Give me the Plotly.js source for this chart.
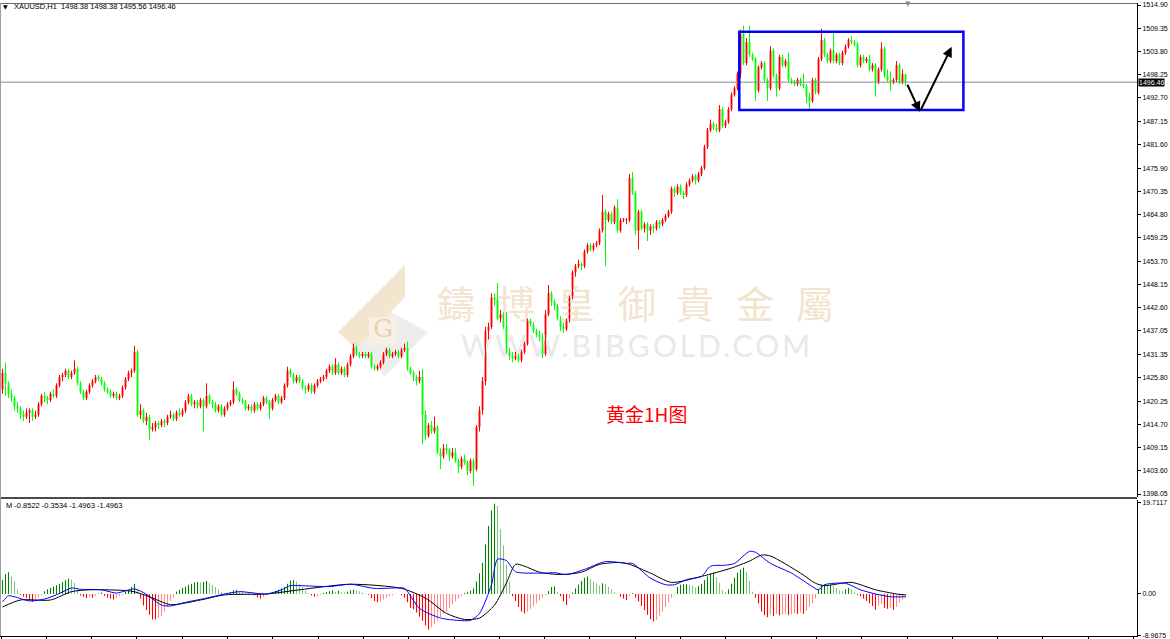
<!DOCTYPE html>
<html><head><meta charset="utf-8">
<script src="https://cdn.plot.ly/plotly-3.0.1.min.js"></script>
<style>html,body{margin:0;padding:0;background:#fff;overflow:hidden}#chart{width:1170px;height:639px}</style>
</head><body><div id="chart"></div>
<script>
// ---------------- DATA (XAUUSD H1) ----------------
const priceOpen = [
1423,1427,1424.5,1422,1421,1419,1418.5,1417,1416.5,1417.5,
1418,1416.5,1417,1419.5,1421.5,1421,1420.5,1422,1421.5,1424,
1426,1426.5,1427.5,1426,1427,1428,1424.5,1422.5,1421,1422.5,
1424,1425,1426,1425.5,1424.5,1423,1422.5,1421.5,1422,1421,
1421.5,1423.5,1425.5,1427,1427.5,1432,1417,1418,1415.5,1416.5,
1413.5,1414,1415,1414.5,1415.5,1415,1416.5,1417,1416,1417.5,
1417,1418,1420,1421.5,1419.5,1420,1419,1420.5,1419,1421.5,
1420,1419.5,1418,1419,1417,1418.5,1419.5,1420,1423,1422,
1420.5,1420,1418.5,1419,1418,1419.5,1418.5,1419.5,1421,1420,
1418.5,1420.5,1421.5,1420,1421,1424,1427.5,1426.5,1425,1426,
1425,1423.5,1423,1424,1422.5,1424,1425,1425.5,1426,1427.5,
1428.5,1427,1429,1427,1428,1426.5,1429,1431,1433,1431.5,
1431,1431.5,1431,1431.5,1428.5,1428,1428.5,1429.5,1431.5,1432.5,
1431,1431.5,1432,1431,1432.5,1433,1428,1427,1426,1425,
1426,1417,1412,1414.5,1413,1414,1408,1407,1409,1408.5,
1407,1408,1406,1404.5,1406.5,1405.5,1403.5,1406,1404,1414,
1418,1425,1437,1438,1445,1444.5,1440,1441,1438,1432,
1431,1430.5,1431,1430,1432,1434,1439.5,1438.5,1437,1436,
1435.5,1431.5,1441,1446,1444,1443,1440,1438,1437.5,1439.5,
1445,1451,1452.5,1453,1452.5,1456,1457.5,1456.5,1457.5,1458,
1461,1465.5,1463.5,1465,1463,1466.5,1461,1463.5,1463.5,1463.5,
1473.5,1470,1461,1465.5,1461.5,1462.5,1461,1462,1461.5,1463,
1462.5,1463.5,1464.5,1465.5,1471,1470,1471.5,1470,1469.5,1472,
1473,1474,1473,1474.5,1476,1481,1485,1486.5,1485.5,1485,
1490,1486,1487,1490,1493.5,1495,1498.5,1508,1501,1506,
1503,1502,1494.5,1500,1501,1497,1495,1504,1498,1495,
1502.5,1500.5,1501.5,1497,1496.5,1496,1497,1496,1495.5,1493,
1492,1497,1494,1502,1506.5,1503,1501.5,1504,1501.5,1503,
1501,1503.5,1505,1506.5,1506,1505.5,1500.5,1502.5,1501.5,1502,
1499.5,1500.5,1496.5,1499.5,1504.5,1498,1497,1496.5,1497,1500.5,
1496.5,1498.38];
const priceHigh = [
1428,1429.5,1425,1423,1421.5,1420,1419,1418,1418.5,1418.5,
1418.5,1418,1420,1422,1422.5,1421.5,1422.5,1423,1424.5,1426.5,
1427,1428,1428,1427.5,1430,1428.5,1425,1423,1423,1424.5,
1425.5,1426.5,1426.5,1426,1425,1423.5,1423,1422.5,1422.5,1422,
1424,1426,1427.5,1428,1433.5,1432.5,1419.5,1418.5,1417.5,1417,
1415,1415.5,1415.5,1416,1416,1417,1418,1417.5,1418,1418.5,
1418.5,1420.5,1422,1422,1420.5,1420.5,1421,1421,1424.5,1422,
1420.5,1420,1419.5,1419.5,1419,1420,1420.5,1425,1423.5,1422.5,
1421,1420.5,1419.5,1419.5,1420,1420,1420,1421.5,1421.5,1420.5,
1421,1422,1422,1421.5,1424.5,1428.5,1428,1427,1426.5,1426.5,
1425.5,1424,1424.5,1424.5,1424.5,1425.5,1426,1426.5,1428,1429,
1429,1430.5,1429.5,1428.5,1428.5,1429.5,1431.5,1434,1433.5,1432,
1432,1432,1432,1432,1429,1429,1430,1432,1433,1433,
1432,1432.5,1432.5,1433,1434,1434.5,1428.5,1427.5,1426.5,1427.5,
1428,1418,1415,1415.5,1416.5,1414.5,1409,1410,1410,1409,
1409,1409,1406.5,1407,1407.5,1406,1406.5,1406.5,1414.5,1419,
1426,1438,1439,1446,1446,1448.5,1442,1441.5,1441.5,1433,
1432,1432,1431.5,1432.5,1434.5,1440,1440,1439,1437.5,1437,
1436.5,1442,1448,1446.5,1444.5,1443.5,1440.5,1439,1440,1445.5,
1451.5,1453,1454,1453.5,1456.5,1458,1458,1458,1458.5,1461.5,
1469.5,1466,1465.5,1465.5,1467,1468.5,1464,1464,1464,1474.5,
1475,1470.5,1466,1466,1463,1463,1462.5,1462.5,1463.5,1463.5,
1464,1465,1466,1471.5,1471.5,1472,1472,1470.5,1472.5,1473.5,
1474.5,1474.5,1475,1476.5,1481.5,1485.5,1487.5,1487,1486.5,1491,
1490.5,1487.5,1490.5,1494,1495.5,1499,1509,1510,1507,1510,
1503.5,1502.5,1500.5,1501.5,1501.5,1497.5,1505,1504.5,1498.5,1503,
1503,1502,1503.5,1497.5,1497,1497.5,1497.5,1498.5,1496,1494,
1497.5,1497.5,1502.5,1509.2,1507,1503.5,1504.5,1508.5,1503.5,1503.5,
1504,1505.5,1507,1507.5,1506.5,1506,1503,1503,1502.5,1503,
1501,1501,1500,1506,1505,1499.5,1499,1497.5,1501.5,1501,
1499.5,1498.38];
const priceLow = [
1422,1421.5,1421,1420,1418,1417.5,1416,1415.5,1416,1415,
1415.5,1416,1416.5,1419,1420,1419.5,1420,1421,1421,1423.5,
1425,1426,1425.5,1425.5,1426.5,1424,1422,1420.5,1420.5,1422,
1423.5,1424.5,1425,1424,1422.5,1422,1421,1421,1420.5,1420.5,
1421,1423,1425,1426,1427,1416.5,1416,1415,1414.5,1411,
1413,1413,1413.5,1414,1414,1414.5,1416,1415.5,1415.5,1416.5,
1416.5,1417.5,1419.5,1419,1418.5,1418.5,1418.5,1413,1418.5,1419.5,
1418.5,1417.5,1417.5,1416.5,1416.5,1418,1419,1419.5,1421.5,1420,
1419.5,1418,1418,1417.5,1417.5,1418,1418,1419,1419.5,1416,
1418,1420,1419.5,1419.5,1420.5,1423.5,1426,1424.5,1424.5,1424.5,
1423,1422,1422.5,1422,1422,1423.5,1424.5,1425,1425.5,1427,
1426.5,1426.5,1426.5,1426.5,1426,1426,1428.5,1430.5,1431,1430.5,
1430.5,1430.5,1430.5,1428,1427.5,1427.5,1428,1429,1431,1430.5,
1430.5,1431,1430.5,1430.5,1432,1427.5,1426.5,1425,1424,1424.5,
1410,1411,1411.5,1412.5,1412.5,1407.5,1404,1406.5,1407.5,1406,
1406.5,1405.5,1403,1404,1405,1402.5,1403,1400,1403.5,1413,
1417,1424,1435,1437.5,1443,1439.5,1439,1437.5,1431.5,1430,
1429.5,1430,1429.5,1429.5,1431.5,1433.5,1438,1436.5,1435.5,1434.5,
1430.5,1431,1440.5,1443,1442,1439.5,1437,1436.5,1437,1439,
1444.5,1450,1452,1451.5,1452,1455.5,1456,1456,1457,1457.5,
1460.5,1452.5,1463,1462.5,1462.5,1460.5,1460.5,1463,1462.5,1463,
1469.5,1460,1456.5,1461,1460.5,1458.5,1460,1460.5,1461,1461.5,
1462,1463,1464,1465,1469,1469.5,1469.5,1468.5,1469,1471.5,
1472.5,1472,1472.5,1474,1475.5,1480.5,1484.5,1485,1484.5,1484.5,
1485.5,1485.5,1486.5,1489.5,1493,1494.5,1497.5,1500.5,1500.5,1502.5,
1501.5,1492,1494,1499.5,1496.5,1492,1494.5,1497.5,1493,1494.5,
1500,1500,1496.5,1496,1495.5,1495.5,1495.5,1495,1491.5,1489.8,
1491.5,1493.5,1493.5,1501.5,1502.5,1501,1501,1501,1501,1500.5,
1500.5,1503,1504.5,1505.5,1505,1500,1500,1501,1501,1499,
1499,1493,1496,1499,1497.5,1496.5,1494.5,1496,1496.5,1496,
1496,1495.56];
const priceClose = [
1427,1424.5,1422,1421,1419,1418.5,1417,1416.5,1417.5,1418,
1416.5,1417,1419.5,1421.5,1421,1420.5,1422,1421.5,1424,1426,
1426.5,1427.5,1426,1427,1428,1424.5,1422.5,1421,1422.5,1424,
1425,1426,1425.5,1424.5,1423,1422.5,1421.5,1422,1421,1421.5,
1423.5,1425.5,1427,1427.5,1432,1417,1418,1415.5,1416.5,1413.5,
1414,1415,1414.5,1415.5,1415,1416.5,1417,1416,1417.5,1417,
1418,1420,1421.5,1419.5,1420,1419,1420.5,1419,1421.5,1420,
1419.5,1418,1419,1417,1418.5,1419.5,1420,1423,1422,1420.5,
1420,1418.5,1419,1418,1419.5,1418.5,1419.5,1421,1420,1418.5,
1420.5,1421.5,1420,1421,1424,1427.5,1426.5,1425,1426,1425,
1423.5,1423,1424,1422.5,1424,1425,1425.5,1426,1427.5,1428.5,
1427,1429,1427,1428,1426.5,1429,1431,1433,1431.5,1431,
1431.5,1431,1431.5,1428.5,1428,1428.5,1429.5,1431.5,1432.5,1431,
1431.5,1432,1431,1432.5,1433,1428,1427,1426,1425,1426,
1417,1412,1414.5,1413,1414,1408,1407,1409,1408.5,1407,
1408,1406,1404.5,1406.5,1405.5,1403.5,1406,1404,1414,1418,
1425,1437,1438,1445,1444.5,1440,1441,1438,1432,1431,
1430.5,1431,1430,1432,1434,1439.5,1438.5,1437,1436,1435.5,
1431.5,1441,1446,1444,1443,1440,1438,1437.5,1439.5,1445,
1451,1452.5,1453,1452.5,1456,1457.5,1456.5,1457.5,1458,1461,
1465.5,1463.5,1465,1463,1466.5,1461,1463.5,1463.5,1463.5,1473.5,
1470,1461,1465.5,1461.5,1462.5,1461,1462,1461.5,1463,1462.5,
1463.5,1464.5,1465.5,1471,1470,1471.5,1470,1469.5,1472,1473,
1474,1473,1474.5,1476,1481,1485,1486.5,1485.5,1485,1490,
1486,1487,1490,1493.5,1495,1498.5,1508,1501,1506,1503,
1502,1494.5,1500,1501,1497,1495,1504,1498,1495,1502.5,
1500.5,1501.5,1497,1496.5,1496,1497,1496,1495.5,1493,1492,
1497,1494,1502,1506.5,1503,1501.5,1504,1501.5,1503,1501,
1503.5,1505,1506.5,1506,1505.5,1500.5,1502.5,1501.5,1502,1499.5,
1500.5,1496.5,1499.5,1504.5,1498,1497,1496.5,1497,1500.5,1496.5,
1498.38,1496.46];

// MACD histogram (one per bar)
const macdHist = [
3.0,4.3,4.7,3.8,2.7,0.9,-0.2,-0.6,-0.9,-1.4,
-1.7,-1.5,-0.8,-0.3,0.6,1.0,1.3,1.6,1.9,2.2,
2.6,3.0,3.3,3.1,2.4,1.0,-0.3,-0.6,-0.9,-0.7,
-0.8,-0.4,0.1,0.3,-0.4,-0.8,-1.0,-1.2,-0.9,-0.5,
-0.2,0.5,0.8,1.5,2.2,1.0,-1.0,-2.5,-3.5,-4.5,
-5.5,-5.5,-5.2,-4.8,-3.8,-2.8,-1.5,-0.8,0.5,0.9,
1.3,1.6,2.0,2.2,2.5,2.6,2.5,2.6,2.8,2.4,
2.0,1.5,1.0,0.4,0.2,0.1,0.3,0.8,0.9,0.6,
0.5,0.3,0.2,0.1,-0.3,-0.8,-1.0,-0.7,-0.3,0.1,
0.3,0.6,0.9,1.2,1.5,2.2,2.9,3.0,2.7,2.2,
1.5,0.7,0.2,-0.3,-0.6,-0.5,-0.2,0.2,0.4,0.6,
0.8,0.5,0.7,0.4,0.3,0.5,0.8,0.9,0.8,0.6,
0.3,0.1,-0.2,-0.9,-1.5,-1.8,-1.6,-1.2,-0.8,-0.5,
-0.3,-0.1,0.0,-0.3,-0.8,-1.8,-3.0,-3.3,-4.0,-4.9,
-5.8,-6.8,-7.7,-7.2,-6.6,-5.8,-5.0,-4.3,-3.8,-3.0,
-2.2,-1.6,-1.0,-0.5,0.2,0.4,0.7,1.2,2.7,4.5,
6.7,10.7,14.7,18.0,19.5,19.0,14.0,10.5,6.3,2.7,
-0.5,-1.5,-2.8,-3.8,-4.2,-3.8,-3.2,-2.6,-2.0,-1.4,
-0.8,-0.3,0.6,1.5,1.6,0.4,-0.5,-1.6,-2.4,-1.0,
0.3,1.2,2.0,2.8,3.5,3.8,3.2,2.7,2.3,1.8,
2.3,2.2,1.5,1.0,0.4,0.1,-0.6,-1.0,-1.3,-0.5,
0.2,-0.8,-1.6,-2.6,-3.5,-4.5,-5.5,-5.9,-5.6,-4.8,
-3.8,-2.8,-1.8,-0.8,-0.2,1.5,2.0,2.1,2.1,2.0,
1.8,1.4,1.7,2.2,3.0,3.8,4.3,4.6,3.6,2.4,
0.8,0.4,1.0,2.2,3.5,4.6,5.3,5.7,4.7,2.8,
0.5,-0.8,-2.0,-3.8,-4.6,-5.0,-4.5,-4.8,-4.3,-4.6,
-4.4,-4.3,-4.5,-4.4,-4.2,-4.3,-4.0,-4.3,-3.6,-2.8,
-2.0,-1.0,1.0,2.0,2.0,1.9,2.0,1.8,1.3,0.8,
0.6,1.0,1.3,1.0,0.4,-0.2,-0.5,-1.0,-1.5,-2.0,
-2.6,-3.4,-2.5,-2.2,-3.0,-3.2,-3.0,-3.4,-2.8,-1.8,
-1.2,-0.85];

// MACD main (blue) and signal (black) lines, read at these bar indices
const difBars = [0,2,4,9,14,19,23,26,33,38,44,48,53,56,61,68,74,79,88,93,96,99,109,116,124,131,134,139,146,152,156,159,163,165,168,171,178,181,184,188,194,201,208,210,216,221,224,228,233,236,241,244,249,251,256,263,269,272,274,281,286,291,296,301];
const difValues = [-1.7,-0.4,-0.6,-1.5,-1.1,0.1,1.3,1.0,0.9,0.2,1.1,-0.1,-2.4,-2.6,-1.8,-0.9,0,0.5,0,0.9,1.8,1.8,1.6,2.1,1.2,1.3,1.2,-3.1,-5.2,-5.7,-5.7,-4.2,2.0,7.5,7.2,4.8,4.5,4.5,4.6,4.2,5.3,7.0,6.6,6.6,3.4,2.0,2.0,3.1,3.8,6.0,6.2,6.6,9.2,9.0,6.6,4.5,2.0,0.9,2.0,2.3,0.9,0,-0.6,-0.6];
const deaBars = [0,6,16,23,29,43,49,56,66,74,88,99,116,133,141,148,154,159,164,168,171,174,179,186,193,199,206,209,216,223,233,243,249,253,256,266,271,274,283,291,298,301];
const deaValues = [-2.8,-1.3,-1.3,0.5,0.9,0.6,-0.6,-2.3,-1.3,-0.2,0,0.9,2.1,1.2,-0.9,-4.2,-5.5,-5.2,-2.4,2.4,6.4,6.0,4.7,4.2,4.7,6.4,6.8,6.4,4.5,2.5,3.8,5.6,7.1,8.4,8.2,4.5,2.3,1.8,2.5,0.9,0,-0.2];

// Axis tick labels
const priceTickVals = [1514.90,1509.35,1503.80,1498.25,1492.70,1487.15,1481.60,1475.90,1470.35,1464.80,1459.25,1453.70,1448.15,1442.60,1437.05,1431.35,1425.80,1420.25,1414.70,1409.15,1403.60,1398.05];
const priceTickText = ['1514.90','1509.35','1503.80','1498.25','1492.70','1487.15','1481.60','1475.90','1470.35','1464.80','1459.25','1453.70','1448.15','1442.60','1437.05','1431.35','1425.80','1420.25','1414.70','1409.15','1403.60','1398.05'];
const macdTickVals = [19.7117, 0, -8.9675];
const macdTickText = ['19.7117', '0.00', '-8.9675'];

// Texts
const headerText = 'XAUUSD,H1\u00a0\u00a01498.38 1498.38 1495.56 1496.46';
const macdText = 'M -0.8522 -0.3534 -1.4963 -1.4963';
const lastPriceText = '1496.46';
const chartLabel = '黄金1H图';
const wmChars = ['鑄','博','皇','御','貴','金','屬'];
const wmUrl = 'WWW.BIBGOLD.COM';
const logoLetter = 'G';

// Analyst drawings (in bar-index / price units)
const rangeBox = {x0: 245.6, x1: 320.3, y0: 1489.8, y1: 1508.5};
const arrowPts = [[301.4, 1496.2], [305.8, 1489.4], [316.4, 1504.9]];

// ---------------- GEOMETRY ----------------
const PLOT_W = 1137, PT = 3, PB = 636, PH = PB - PT;
const X0PX = 2.5, BARPX = 3;
const xRange = [(0 - X0PX) / BARPX, (PLOT_W - X0PX) / BARPX];
const priceRange = [1397.333, 1515.378];
const macdRange = [-9.075, 20.29];
const MAIN_BOTTOM_PX = 497, MACD_TOP_PX = 500;
const px2x = px => px / PLOT_W;
const py2y = py => (PB - py) / PH;
const pxToIdx = px => (px - X0PX) / BARPX;
const pyToPrice = py => priceRange[1] - (py - PT) * (priceRange[1] - priceRange[0]) / (MAIN_BOTTOM_PX - PT);

const UP = '#ff0000', DN = '#00ff00';
const N = priceClose.length;
const idx = priceClose.map((_, i) => i);

// candle bodies and wicks
const bodyBase = [], bodyLen = [], bodyCol = [];
const upWx = [], upWy = [], dnWx = [], dnWy = [];
for (let i = 0; i < N; i++) {
  const o = priceOpen[i], c = priceClose[i];
  const up = c >= o;
  bodyBase.push(Math.min(o, c));
  bodyLen.push(Math.max(Math.abs(c - o), 0.18));
  bodyCol.push(up ? UP : DN);
  const wx = up ? upWx : dnWx, wy = up ? upWy : dnWy;
  wx.push(i, i, null); wy.push(priceLow[i], priceHigh[i], null);
}
const histCol = macdHist.map((h, i) => {
  const p = i > 0 ? macdHist[i - 1] : h;
  if (h >= 0) return h >= p ? '#008000' : '#7fc47f';
  return h <= p ? '#ff0000' : '#ff8c8c';
});

// watermark text positions (pixel layout -> axis units)
const wmCharPx = [456, 516, 576, 637, 695, 755, 815];
const wmX = wmCharPx.map(pxToIdx).concat([pxToIdx(637), pxToIdx(383)]);
const wmY = wmCharPx.map(() => pyToPrice(308)).concat([pyToPrice(349), pyToPrice(331)]);
const wmText = wmChars.concat([wmUrl, logoLetter]);
const wmSize = wmChars.map(() => 38).concat([30, 25]);
const wmColor = wmChars.map(() => '#f2e5d0').concat(['#e9e9e9', '#e6d2b0']);
const wmFont = wmChars.map(() => 'Noto Sans CJK TC').concat(['Lato', 'DejaVu Serif']);

const traces = [
  {type: 'scatter', mode: 'text', x: wmX, y: wmY, text: wmText, xaxis: 'x', yaxis: 'y',
   textfont: {size: wmSize, color: wmColor, family: wmFont}, hoverinfo: 'skip', cliponaxis: false, showlegend: false},
  {type: 'scatter', mode: 'lines', x: dnWx, y: dnWy, line: {color: DN, width: 1}, hoverinfo: 'skip', showlegend: false, connectgaps: false},
  {type: 'scatter', mode: 'lines', x: upWx, y: upWy, line: {color: UP, width: 1}, hoverinfo: 'skip', showlegend: false, connectgaps: false},
  {type: 'bar', x: idx, y: bodyLen, base: bodyBase, width: 0.62, marker: {color: bodyCol, line: {width: 0}}, hoverinfo: 'skip', showlegend: false},
  {type: 'bar', x: idx, y: macdHist, width: 0.36, xaxis: 'x', yaxis: 'y2', marker: {color: histCol, line: {width: 0}}, hoverinfo: 'skip', showlegend: false},
  {type: 'scatter', mode: 'lines', x: deaBars, y: deaValues, xaxis: 'x', yaxis: 'y2', line: {color: '#000000', width: 1, shape: 'spline', smoothing: 0.7}, hoverinfo: 'skip', showlegend: false},
  {type: 'scatter', mode: 'lines', x: difBars, y: difValues, xaxis: 'x', yaxis: 'y2', line: {color: '#0000ff', width: 1, shape: 'spline', smoothing: 0.7}, hoverinfo: 'skip', showlegend: false}
];

// logo polygons in pixel space
function pathFromPx(pts) {
  return 'M' + pts.map(p => px2x(p[0]).toFixed(5) + ',' + py2y(p[1]).toFixed(5)).join(' L') + ' Z';
}
const logoGray = [[385,309],[428,332],[385,376],[356,349]];
const logoTan = [[405,265],[405,297],[356,349],[338,332]];
const logoG = [[369,317],[397,317],[397,345],[369,345]];

const axFont = {family: 'Liberation Sans, Arial, sans-serif', size: 7, color: '#000'};
const shapes = [
  {type: 'path', xref: 'paper', yref: 'paper', path: pathFromPx(logoGray), fillcolor: '#ededed', line: {width: 0}, layer: 'below'},
  {type: 'path', xref: 'paper', yref: 'paper', path: pathFromPx(logoTan), fillcolor: '#f3e6cf', line: {width: 0}, layer: 'below'},
  {type: 'path', xref: 'paper', yref: 'paper', path: pathFromPx(logoG), fillcolor: '#f7efe2', line: {width: 0}, layer: 'below'},
  {type: 'line', xref: 'paper', x0: 0, x1: 1, yref: 'y', y0: priceClose[N - 1], y1: priceClose[N - 1], line: {color: '#8a8a8a', width: 1}},
  {type: 'rect', xref: 'x', yref: 'y', x0: rangeBox.x0, x1: rangeBox.x1, y0: rangeBox.y0, y1: rangeBox.y1, line: {color: '#0000ff', width: 2.5}},
  {type: 'line', xref: 'paper', yref: 'paper', x0: 0, x1: 1, y0: py2y(498), y1: py2y(498), line: {color: '#4a4a4a', width: 2}},
  {type: 'line', xref: 'paper', yref: 'paper', x0: 0, x1: 1, y0: py2y(3.5), y1: py2y(3.5), line: {color: '#6a6a6a', width: 1}},
  {type: 'line', xref: 'paper', yref: 'paper', x0: 0.0004, x1: 0.0004, y0: 0, y1: 1, line: {color: '#9a9a9a', width: 1}}
];

const annotations = [
  {xref: 'paper', yref: 'paper', x: px2x(12), y: py2y(7), xanchor: 'left', yanchor: 'middle', text: headerText, showarrow: false, font: {family: 'Liberation Sans, Arial, sans-serif', size: 7.5, color: '#000'}},
  {xref: 'paper', yref: 'paper', x: px2x(5.5), y: py2y(7), xanchor: 'center', yanchor: 'middle', text: '▼', showarrow: false, font: {family: 'DejaVu Sans', size: 6, color: '#000'}},
  {xref: 'paper', yref: 'paper', x: px2x(4), y: py2y(505.5), xanchor: 'left', yanchor: 'middle', text: macdText, showarrow: false, font: {family: 'Liberation Sans, Arial, sans-serif', size: 7.5, color: '#000'}},
  {xref: 'paper', yref: 'paper', x: px2x(908), y: py2y(4), xanchor: 'center', yanchor: 'middle', text: '▼', showarrow: false, font: {family: 'DejaVu Sans', size: 7, color: '#8a8a8a'}},
  {xref: 'paper', yref: 'paper', x: px2x(646), y: py2y(413), xanchor: 'center', yanchor: 'middle', text: chartLabel, showarrow: false, font: {family: 'Noto Sans CJK SC', size: 19, color: '#ff0000'}},
  {xref: 'paper', yref: 'y', x: 1, y: priceClose[N - 1], xanchor: 'left', yanchor: 'middle', xshift: 1, text: lastPriceText, showarrow: false, bgcolor: '#000000', borderpad: 0, font: {family: 'Liberation Sans, Arial, sans-serif', size: 7, color: '#ffffff'}},
  {xref: 'x', yref: 'y', axref: 'x', ayref: 'y', x: arrowPts[1][0], y: arrowPts[1][1], ax: arrowPts[0][0], ay: arrowPts[0][1], text: '', showarrow: true, arrowhead: 2, arrowsize: 1, arrowwidth: 2, arrowcolor: '#000'},
  {xref: 'x', yref: 'y', axref: 'x', ayref: 'y', x: arrowPts[2][0], y: arrowPts[2][1], ax: arrowPts[1][0], ay: arrowPts[1][1], text: '', showarrow: true, arrowhead: 2, arrowsize: 1, arrowwidth: 2, arrowcolor: '#000'}
];

const layout = {
  width: 1170, height: 639,
  margin: {l: 0, r: 1170 - PLOT_W, t: PT, b: 639 - PB, pad: 0},
  paper_bgcolor: '#ffffff', plot_bgcolor: '#ffffff',
  showlegend: false, barmode: 'overlay', dragmode: false,
  xaxis: {domain: [0, 1], range: xRange, anchor: 'y2', showgrid: false, zeroline: false,
          showline: true, linecolor: '#000', linewidth: 1, ticks: 'outside', ticklen: 3, tickcolor: '#000',
          tickmode: 'linear', tick0: pxToIdx(1), dtick: 15.1, showticklabels: false, fixedrange: true},
  yaxis: {domain: [py2y(MAIN_BOTTOM_PX), 1], range: priceRange, side: 'right', anchor: 'x',
          tickmode: 'array', tickvals: priceTickVals, ticktext: priceTickText, ticks: 'outside', ticklen: 3,
          tickcolor: '#000', tickfont: axFont, showline: true, linecolor: '#000', linewidth: 1,
          showgrid: false, zeroline: false, fixedrange: true},
  yaxis2: {domain: [0, py2y(MACD_TOP_PX)], range: macdRange, side: 'right', anchor: 'x',
           tickmode: 'array', tickvals: macdTickVals, ticktext: macdTickText, ticks: 'outside', ticklen: 3,
           tickcolor: '#000', tickfont: axFont, showline: true, linecolor: '#000', linewidth: 1,
           showgrid: false, zeroline: false, fixedrange: true},
  shapes: shapes,
  annotations: annotations
};

Plotly.newPlot('chart', traces, layout, {displayModeBar: false, staticPlot: true}).then(gd => {
  gd.querySelectorAll('text').forEach(t => {
    if (t.textContent === wmUrl) t.setAttribute('letter-spacing', '3');
  });
});
</script>
</body></html>
